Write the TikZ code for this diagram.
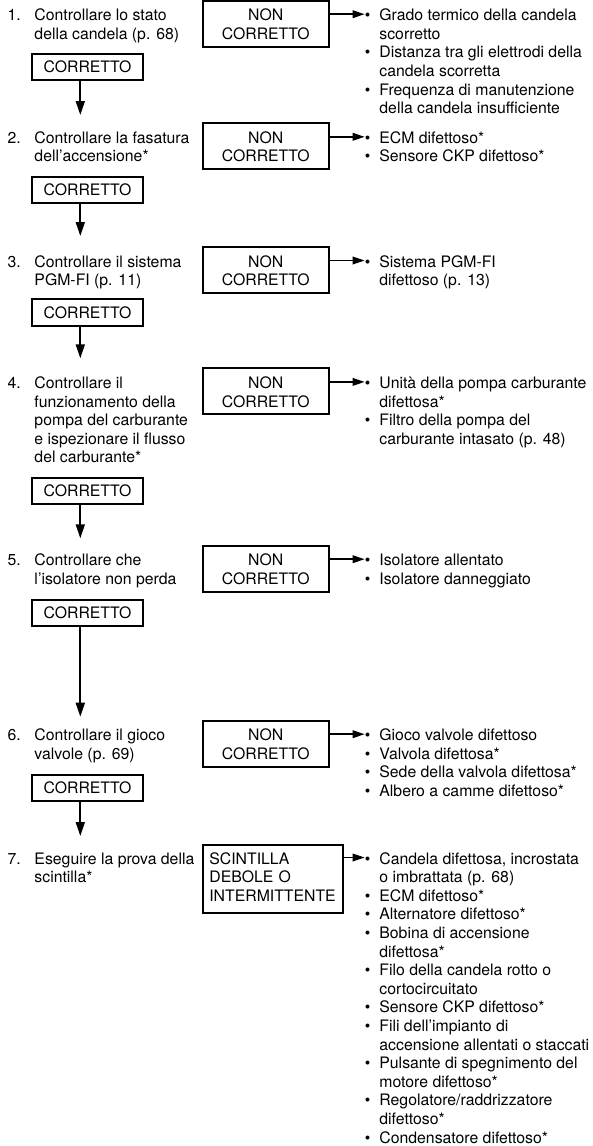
\documentclass[tikz,border=0pt]{standalone}
\usepackage{fontspec}
\setmainfont{TeX Gyre Heros}
\usetikzlibrary{arrows.meta}

% numbered check step: number column, then the lines of the step
\newcommand{\stepitem}[2]{\makebox[26.8pt][l]{#1}\begin{tabular}[t]{@{}l@{}}#2\end{tabular}}
% bullet list of possible causes
\newenvironment{causes}{\begin{tabular}[t]{@{}l@{\hspace{9pt}}l@{}}}{\end{tabular}}
\newcommand{\bul}{\textbullet}

\begin{document}
\begin{tikzpicture}[x=1pt, y=-1pt,
  every node/.style={font=\fontsize{15.8pt}{18.6pt}\selectfont, inner sep=0pt},
  steptxt/.style={anchor=base west},
  nonbox/.style={draw, line width=2pt, text width=126.5pt, align=center,
                 text height=20pt, text depth=26pt, anchor=base},
  okbox/.style={draw, line width=2pt, minimum width=110.4pt, minimum height=26.5pt},
  sparkbox/.style={draw, line width=2pt, inner xsep=6.65pt, text width=127pt, align=left,
                   text height=19pt, text depth=49.3pt, anchor=base west},
  nextstep/.style={line width=1.8pt, -{Triangle[length=14pt,width=9pt]}},
  tocause/.style={line width=1.8pt, -{Triangle[length=12pt,width=7.5pt]}},
]
\useasboundingbox (0,0) rectangle (592,1146);
\coordinate (ax) at (80.3,0);

% ---- step 1
\node[steptxt] (s1) at (7.5,20.7) {\stepitem{1.}{Controllare lo stato\\della candela (p. 68)}};
\node[nonbox] (n1) at (265.75,20.7) {NON\\CORRETTO};
\node[steptxt] (l1) at (364.7,20.7) {\begin{causes}
  \bul & Grado termico della candela\\
       & scorretto\\
  \bul & Distanza tra gli elettrodi della\\
       & candela scorretta\\
  \bul & Frequenza di manutenzione\\
       & della candela insufficiente
  \end{causes}};
\node[okbox] (c1) at (87.5,67) {CORRETTO};
\coordinate (a1) at ([yshift=6.5pt]l1.base west);
\draw[tocause] (n1.east |- a1) -- (a1);

% ---- step 2
\node[steptxt] (s2) at (7.5,143.3) {\stepitem{2.}{Controllare la fasatura\\dell’accensione*}};
\node[nonbox] (n2) at (265.75,143.3) {NON\\CORRETTO};
\node[steptxt] (l2) at (364.7,143.3) {\begin{causes}
  \bul & ECM difettoso*\\
  \bul & Sensore CKP difettoso*
  \end{causes}};
\node[okbox] (c2) at (87.5,190) {CORRETTO};
\coordinate (a2) at ([yshift=6.5pt]l2.base west);
\draw[tocause] (n2.east |- a2) -- (a2);
\coordinate (t2) at (80.3,115);
\draw[nextstep] (c1.south -| ax) -- (t2);

% ---- step 3
\node[steptxt] (s3) at (7.5,267) {\stepitem{3.}{Controllare il sistema\\PGM-FI (p. 11)}};
\node[nonbox] (n3) at (265.75,267) {NON\\CORRETTO};
\node[steptxt] (l3) at (364.7,267) {\begin{causes}
  \bul & Sistema PGM-FI\\
       & difettoso (p. 13)
  \end{causes}};
\node[okbox] (c3) at (87.5,312.5) {CORRETTO};
\coordinate (a3) at ([yshift=6.5pt]l3.base west);
\draw[tocause] (n3.east |- a3) -- (a3);
\coordinate (t3) at (80.3,236);
\draw[nextstep] (c2.south -| ax) -- (t3);

% ---- step 4
\node[steptxt] (s4) at (7.5,388.4) {\stepitem{4.}{Controllare il\\funzionamento della\\pompa del carburante\\e ispezionare il flusso\\del carburante*}};
\node[nonbox] (n4) at (265.75,388.4) {NON\\CORRETTO};
\node[steptxt] (l4) at (364.7,388.4) {\begin{causes}
  \bul & Unità della pompa carburante\\
       & difettosa*\\
  \bul & Filtro della pompa del\\
       & carburante intasato (p. 48)
  \end{causes}};
\node[okbox] (c4) at (87.5,491) {CORRETTO};
\coordinate (a4) at ([yshift=6.5pt]l4.base west);
\draw[tocause] (n4.east |- a4) -- (a4);
\coordinate (t4) at (80.3,358.3);
\draw[nextstep] (c3.south -| ax) -- (t4);

% ---- step 5
\node[steptxt] (s5) at (7.5,565.7) {\stepitem{5.}{Controllare che\\l’isolatore non perda}};
\node[nonbox] (n5) at (265.75,565.7) {NON\\CORRETTO};
\node[steptxt] (l5) at (364.7,565.7) {\begin{causes}
  \bul & Isolatore allentato\\
  \bul & Isolatore danneggiato
  \end{causes}};
\node[okbox] (c5) at (87.5,613) {CORRETTO};
\coordinate (a5) at ([yshift=6.5pt]l5.base west);
\draw[tocause] (n5.east |- a5) -- (a5);
\coordinate (t5) at (80.3,538.3);
\draw[nextstep] (c4.south -| ax) -- (t5);

% ---- step 6
\node[steptxt] (s6) at (7.5,740.7) {\stepitem{6.}{Controllare il gioco\\valvole (p. 69)}};
\node[nonbox] (n6) at (265.75,740.7) {NON\\CORRETTO};
\node[steptxt] (l6) at (364.7,740.7) {\begin{causes}
  \bul & Gioco valvole difettoso\\
  \bul & Valvola difettosa*\\
  \bul & Sede della valvola difettosa*\\
  \bul & Albero a camme difettoso*
  \end{causes}};
\node[okbox] (c6) at (87.5,788) {CORRETTO};
\coordinate (a6) at ([yshift=6.5pt]l6.base west);
\draw[tocause] (n6.east |- a6) -- (a6);
\coordinate (t6) at (80.3,716.7);
\draw[nextstep] (c5.south -| ax) -- (t6);

% ---- step 7
\node[steptxt] (s7) at (7.5,864) {\stepitem{7.}{Eseguire la prova della\\scintilla*}};
\node[sparkbox] (n7) at (201.7,864) {SCINTILLA\\DEBOLE O\\INTERMITTENTE};
\node[steptxt] (l7) at (364.7,864) {\begin{causes}
  \bul & Candela difettosa, incrostata\\
       & o imbrattata (p. 68)\\
  \bul & ECM difettoso*\\
  \bul & Alternatore difettoso*\\
  \bul & Bobina di accensione\\
       & difettosa*\\
  \bul & Filo della candela rotto o\\
       & cortocircuitato\\
  \bul & Sensore CKP difettoso*\\
  \bul & Fili dell’impianto di\\
       & accensione allentati o staccati\\
  \bul & Pulsante di spegnimento del\\
       & motore difettoso*\\
  \bul & Regolatore/raddrizzatore\\
       & difettoso*\\
  \bul & Condensatore difettoso*
  \end{causes}};
\coordinate (a7) at ([yshift=6.5pt]l7.base west);
\draw[tocause] (n7.east |- a7) -- (a7);
\coordinate (t7) at (80.3,836);
\draw[nextstep] (c6.south -| ax) -- (t7);
\end{tikzpicture}
\end{document}
